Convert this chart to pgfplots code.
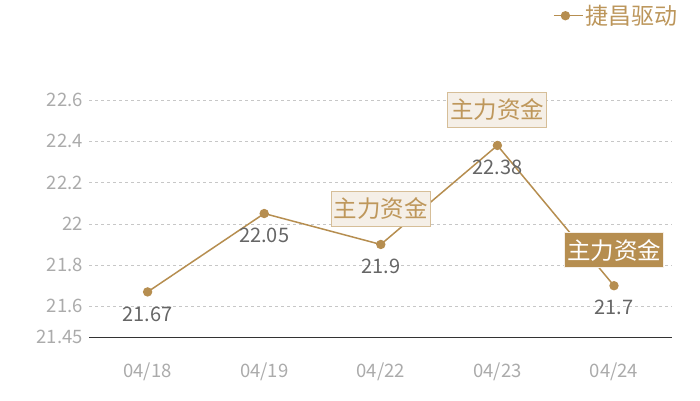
\documentclass[border=0pt]{standalone}
\usepackage{fontspec}
\setmainfont{Noto Sans CJK SC}
\usepackage{xcolor}
\usepackage{pgfplots}
\pgfplotsset{compat=1.18}

\definecolor{gold}{HTML}{B68E50}
\definecolor{legendtext}{HTML}{BC965B}
\definecolor{boxfill}{HTML}{F5EFE7}
\definecolor{boxline}{HTML}{D6BE98}
\definecolor{boxtext}{HTML}{BE975B}
\definecolor{ticktext}{HTML}{ABABAB}
\definecolor{valtext}{HTML}{666666}

\pgfplotstableread{
x y lab
0 21.67 21.67
1 22.05 22.05
2 21.9 21.9
3 22.38 22.38
4 21.7 21.7
}\prices

\begin{document}
\begin{tikzpicture}
\path[use as bounding box] (0,0) rectangle (700pt,400pt);
\begin{axis}[
    at={(89.3pt,62.7pt)}, anchor=south west,
    scale only axis,
    width=583pt, height=268.2pt,
    xmin=-0.5, xmax=4.5,
    ymin=21.45, ymax=22.75,
    xtick={0,1,2,3,4},
    xticklabels={04/18,04/19,04/22,04/23,04/24},
    ytick={21.45,21.6,21.8,22,22.2,22.4,22.6},
    yticklabels={21.45,21.6,21.8,22,22.2,22.4,22.6},
    axis x line=bottom, axis y line=left,
    axis line style={-},
    x axis line style={draw=black!80, line width=0.8pt},
    y axis line style={draw=none},
    major tick length=0pt,
    ymajorgrids,
    grid style={dashed, black!22, line width=0.5pt},
    tick label style={font=\fontsize{18.5}{18.5}\selectfont, text=ticktext},
    xticklabel style={yshift=-22pt},
    yticklabel style={xshift=-3pt},
    /pgf/number format/assume math mode=true,
    clip=false,
    legend style={at={(axis description cs:1.013,1.199)}, anchor=east,
        draw=none, fill=none, inner sep=0pt,
        font=\fontsize{23}{23}\selectfont, text=legendtext},
    legend image code/.code={%
        \draw[#1, mark=none, line width=1.3pt] (0pt,0pt) -- (23pt,0pt);
        \draw[#1, only marks] plot coordinates {(11.5pt,0pt)};
        \path (0pt,0pt) -- (29pt,0pt);},
]
\addplot[color=gold, line width=1.5pt, mark=*, mark size=3.9pt,
    nodes near coords, point meta=explicit symbolic,
    every node near coord/.append style={anchor=center, yshift=-22pt,
        font=\fontsize{20}{20}\selectfont, text=valtext}]
    table[x=x, y=y, meta=lab] {\prices};
\addlegendentry{捷昌驱动}

\node[fill=boxfill, draw=boxline, line width=1pt, text=boxtext,
    font=\fontsize{23.5}{23.5}\selectfont, inner xsep=2.5pt, inner ysep=0pt,
    minimum height=35.5pt] at (axis cs:2,22.072) {主力资金};
\node[fill=boxfill, draw=boxline, line width=1pt, text=boxtext,
    font=\fontsize{23.5}{23.5}\selectfont, inner xsep=2.5pt, inner ysep=0pt,
    minimum height=35.5pt] at (axis cs:3,22.552) {主力资金};
\node[fill=gold, draw=boxfill, line width=1pt, text=white,
    font=\fontsize{23.5}{23.5}\selectfont, inner xsep=2.5pt, inner ysep=0pt,
    minimum height=35.5pt] at (axis cs:4,21.873) {主力资金};
\end{axis}
\end{tikzpicture}
\end{document}
